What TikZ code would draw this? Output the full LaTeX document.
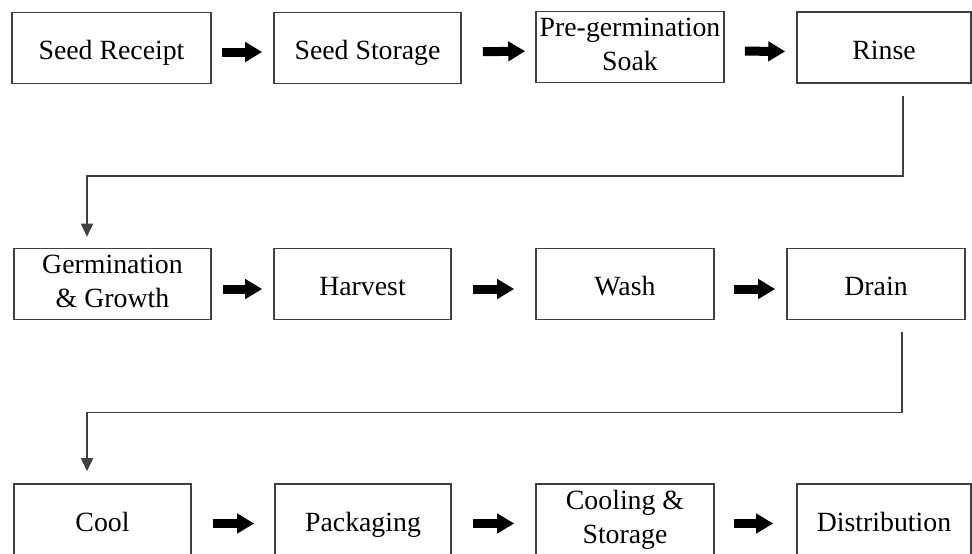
\documentclass[tikz,border=0pt]{standalone}
\usepackage{fontspec}
\setmainfont{Liberation Serif}
\usepackage{tikz}
\usetikzlibrary{shapes.geometric, arrows.meta}
\tikzstyle{stage} = [rectangle, minimum height=35.5pt, text centered, align=center, draw=black!75, line width=0.8pt, inner sep=1pt, font=\fontsize{13.9}{16.9}\selectfont, execute at begin node={\rule{0pt}{14.5pt}}, execute at end node={\rule[-3pt]{0pt}{3pt}}]
\tikzstyle{fat} = [line width=4.5pt, -{Triangle[length=8.5pt,width=9.5pt]}]
\tikzstyle{link} = [draw=black!75, line width=0.8pt, -{Triangle[length=6.5pt,width=6pt]}]

\begin{document}
\begin{tikzpicture}[x=0.5pt, y=-0.5pt]
\useasboundingbox (0,0) rectangle (972,553);
\node (rec) [stage, minimum width=99.5pt] at (111.5,48) {Seed Receipt};
\node (sto) [stage, minimum width=93.5pt] at (367.5,48) {Seed Storage};
\node (soak) [stage, minimum width=94pt] at (630,47) {Pre-germination\\Soak};
\node (rinse) [stage, minimum width=87pt] at (884,47.5) {Rinse};

\node (germ) [stage, minimum width=98.5pt] at (112.5,284) {Germination\\\& Growth};
\node (harv) [stage, minimum width=88.5pt] at (362.5,284) {Harvest};
\node (wash) [stage, minimum width=89pt] at (625,284) {Wash};
\node (drain) [stage, minimum width=89pt] at (876,284) {Drain};

\node (cool) [stage, minimum width=88.5pt] at (102.5,519.5) {Cool};
\node (pack) [stage, minimum width=88pt] at (363,519.5) {Packaging};
\node (cstore) [stage, minimum width=89pt] at (625,519.5) {Cooling \&\\Storage};
\node (dist) [stage, minimum width=87pt] at (884,519.5) {Distribution};

\draw [fat, shorten <=5pt, shorten >=5.5pt] ([yshift=-2pt]rec.east) -- ([yshift=-2pt]sto.west);
\draw [fat, shorten <=10.5pt, shorten >=5pt] ([yshift=-2pt]sto.east) -- ([yshift=-2pt]soak.west);
\draw [fat, shorten <=10pt, shorten >=5.5pt] ([yshift=-2pt]soak.east) -- ([yshift=-2pt]rinse.west);
\draw [link] ([xshift=9.5pt,yshift=-6pt]rinse.south) -- ++(0,80) -| ([xshift=-12.75pt,yshift=5.5pt]germ.north);

\draw [fat, shorten <=5.5pt, shorten >=5.5pt] ([yshift=-2.5pt]germ.east) -- ([yshift=-2.5pt]harv.west);
\draw [fat, shorten <=10.5pt, shorten >=10.5pt] ([yshift=-2.5pt]harv.east) -- ([yshift=-2.5pt]wash.west);
\draw [fat, shorten <=9.5pt, shorten >=5.5pt] ([yshift=-2.5pt]wash.east) -- ([yshift=-2.5pt]drain.west);
\draw [link] ([xshift=13pt,yshift=-6pt]drain.south) -- ++(0,80) -| ([xshift=-7.75pt,yshift=6pt]cool.north);

\draw [fat, shorten <=10.5pt, shorten >=10pt] ([yshift=-2pt]cool.east) -- ([yshift=-2pt]pack.west);
\draw [fat, shorten <=10.5pt, shorten >=10.5pt] ([yshift=-2pt]pack.east) -- ([yshift=-2pt]cstore.west);
\draw [fat, shorten <=9.5pt, shorten >=11.5pt] ([yshift=-2pt]cstore.east) -- ([yshift=-2pt]dist.west);
\end{tikzpicture}
\end{document}
